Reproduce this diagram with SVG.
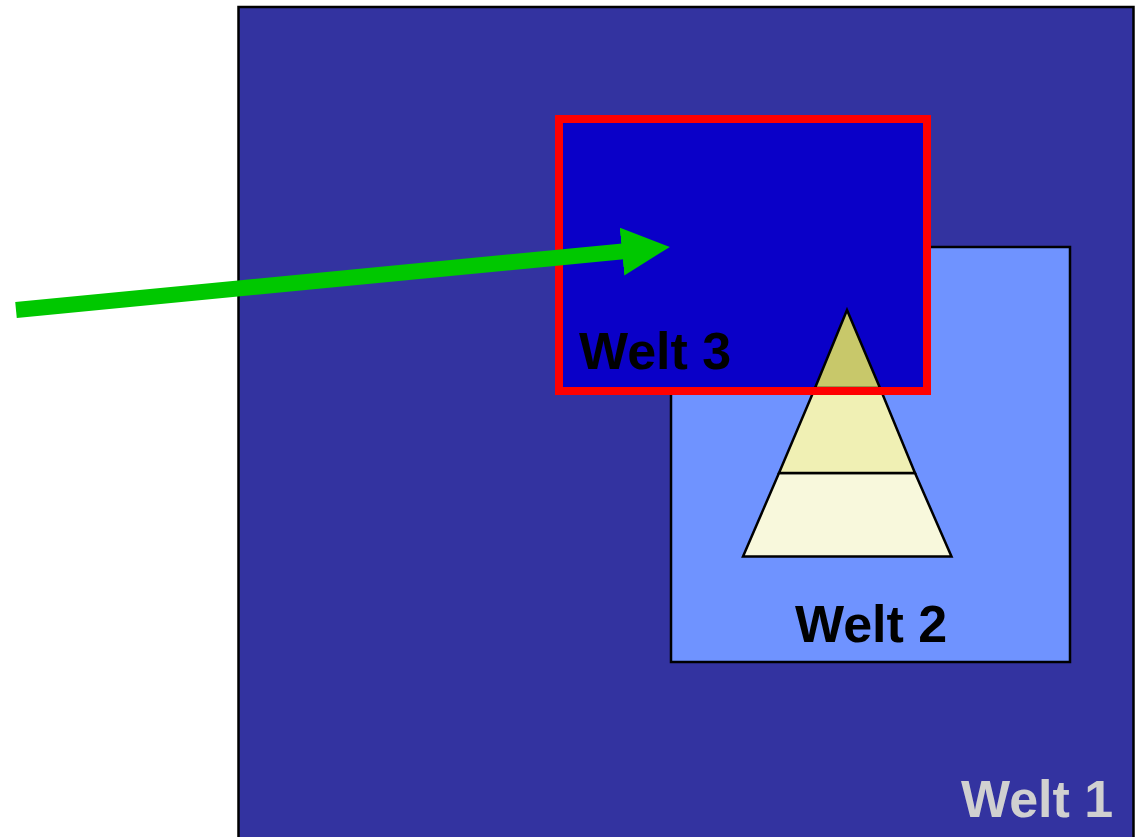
<svg xmlns="http://www.w3.org/2000/svg" width="1138" height="837" viewBox="0 0 1138 837">
<style>
.lbl{font-family:"Liberation Sans",Arial,sans-serif;font-weight:bold;font-size:52px}
.box{stroke:#000;stroke-width:2.5}
.pyr{stroke:#000;stroke-width:2.5;stroke-linejoin:miter}
</style>
<defs>
<marker id="ah" markerUnits="userSpaceOnUse" markerWidth="60" markerHeight="60" refX="1" refY="24" orient="auto" viewBox="0 0 60 60">
<path d="M0,0 L48,24 L0,48 Z" fill="#00C800"/>
</marker>
</defs>
<rect width="1138" height="837" fill="#fff"/>
<g id="welt1">
<rect class="box" x="238.5" y="7" width="895" height="840" fill="#3333A0"/>
<text class="lbl" x="961" y="817" fill="#D0D0D0" font-size="50">Welt 1</text>
</g>
<g id="welt2">
<rect class="box" x="671" y="247" width="399" height="415" fill="#6F93FF"/>
<text class="lbl" x="795" y="642" fill="#000">Welt 2</text>
</g>
<g id="welt3">
<rect x="559" y="119" width="368" height="272" fill="#0A00C8"/>
<text class="lbl" x="579" y="369" fill="#000">Welt 3</text>
</g>
<g id="pyramid">
<path class="pyr" d="M779,473 L915,473 L951.5,556.5 L743,556.5 Z" fill="#F8F8DC"/>
<path class="pyr" d="M815,388 L880,388 L915,473 L779,473 Z" fill="#F0F0B4"/>
<path class="pyr" d="M847,310 L880,388 L815,388 Z" fill="#C8C86A"/>
</g>
<g id="welt3-border">
<rect x="559" y="119" width="368" height="272" fill="none" stroke="#FF0000" stroke-width="8"/>
</g>
<g id="connectors">
<line x1="16" y1="310" x2="623" y2="251.4" stroke="#00C800" stroke-width="16" marker-end="url(#ah)"/>
</g>
</svg>
